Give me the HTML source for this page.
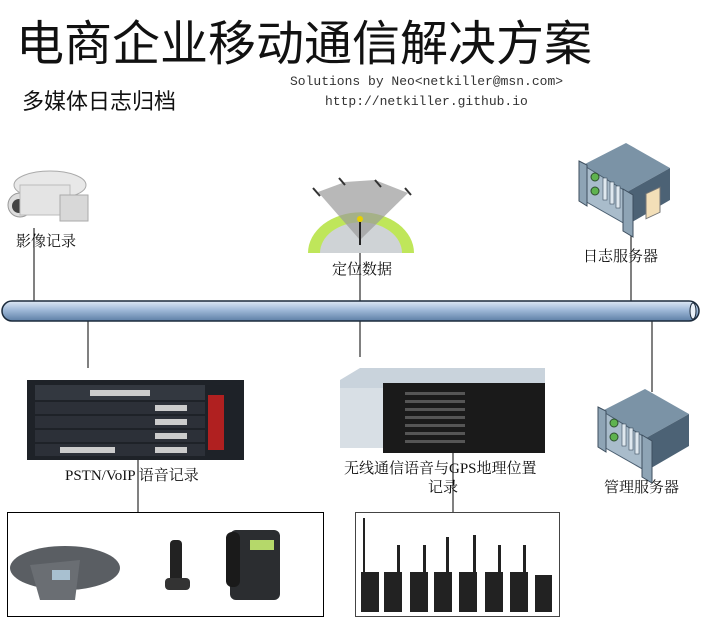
<!DOCTYPE html>
<html><head><meta charset="utf-8"><style>
body{margin:0;width:702px;height:619px;background:#fff;position:relative;overflow:hidden;font-family:"Liberation Serif","Noto Serif CJK SC","Noto Sans CJK SC",serif;}
.t{position:absolute;white-space:nowrap;color:#111;}
.cjk{font-family:"Liberation Sans","Noto Sans CJK SC",sans-serif;}
svg{position:absolute;left:0;top:0;}
</style></head><body>
<svg width="702" height="619" viewBox="0 0 702 619">
<defs>
<linearGradient id="pipe" x1="0" y1="0" x2="0" y2="1">
<stop offset="0" stop-color="#dfe9f5"/><stop offset="0.45" stop-color="#9fb9d8"/><stop offset="1" stop-color="#5d7fa6"/></linearGradient>
<g id="srv">
<polygon points="0,22 43,0 87,25 44,49" fill="#7b93a6"/>
<polygon points="44,49 87,25 87,57 44,82" fill="#4c6275"/>
<polygon points="0,22 44,49 44,82 0,57" fill="#a9bccb" stroke="#4a5e70" stroke-width="1"/>
<polygon points="-4,18 4,22 4,63 -4,58" fill="#8ea4b5" stroke="#3d4e5e"/>
<polygon points="40,46 50,52 50,94 40,88" fill="#8ea4b5" stroke="#3d4e5e"/>
<circle cx="12" cy="34" r="4" fill="#5fb34f" stroke="#2f4f2f"/>
<circle cx="12" cy="48" r="4" fill="#5fb34f" stroke="#2f4f2f"/>
<rect x="20" y="35" width="4" height="22" fill="#dfe8ef" stroke="#3d4e5e" stroke-width=".6"/>
<rect x="27" y="39" width="4" height="22" fill="#dfe8ef" stroke="#3d4e5e" stroke-width=".6"/>
<rect x="33" y="43" width="4" height="22" fill="#dfe8ef" stroke="#3d4e5e" stroke-width=".6"/>
</g>
</defs>
<g stroke="#000" stroke-width="1">
<line x1="34" y1="228" x2="34" y2="302"/>
<line x1="360" y1="245" x2="360" y2="302"/>
<line x1="631" y1="200" x2="631" y2="302"/>
<line x1="88" y1="320" x2="88" y2="368"/>
<line x1="360" y1="320" x2="360" y2="357"/>
<line x1="652" y1="320" x2="652" y2="392"/>
<line x1="138" y1="458" x2="138" y2="512"/>
<line x1="453" y1="452" x2="453" y2="512"/>
</g>
<rect x="2" y="301" width="697" height="20" rx="10" fill="url(#pipe)" stroke="#1c2b3c" stroke-width="1.5"/>
<ellipse cx="693" cy="311" rx="3" ry="8" fill="#e9f0f8" stroke="#1c2b3c"/>
<rect x="7.5" y="512.5" width="316" height="104" fill="none" stroke="#000"/>
<rect x="355.5" y="512.5" width="204" height="104" fill="none" stroke="#444"/>
<use href="#srv" transform="translate(583,143)"/>
<rect x="646" y="195" width="14" height="25" fill="#f3dfb8" stroke="#777" transform="skewY(-25) translate(0,300)"/>
<use href="#srv" transform="translate(602,389)"/>
<g>
<ellipse cx="50" cy="185" rx="36" ry="14" fill="#e8e8e8" stroke="#aaa"/>
<ellipse cx="20" cy="205" rx="12" ry="12" fill="#ddd" stroke="#999"/>
<circle cx="19" cy="206" r="7" fill="#444"/>
<rect x="20" y="185" width="50" height="30" fill="#e4e4e4" stroke="#bbb"/>
<rect x="60" y="195" width="28" height="26" fill="#d8d8d8" stroke="#aaa"/>
</g>
<g>
<path d="M308,253 A52,40 0 0 1 414,253 Z" fill="#bfe65a"/>
<path d="M320,253 A40,30 0 0 1 402,253 Z" fill="#cfd3d6"/>
<polygon points="360,240 318,192 345,182 375,180 408,193" fill="#9a9a9a" opacity=".7"/>
<line x1="360" y1="222" x2="360" y2="245" stroke="#222" stroke-width="2"/>
<circle cx="360" cy="219" r="3" fill="#e8d000"/>
<g stroke="#333" stroke-width="2"><line x1="313" y1="188" x2="320" y2="196"/><line x1="339" y1="178" x2="345" y2="185"/><line x1="375" y1="180" x2="381" y2="187"/><line x1="405" y1="188" x2="411" y2="195"/></g>
</g>
<g>
<rect x="27" y="380" width="217" height="80" fill="#1e2228"/>
<rect x="35" y="385" width="170" height="15" fill="#333840"/>
<rect x="35" y="402" width="170" height="12" fill="#2c3038"/>
<rect x="35" y="416" width="170" height="12" fill="#2c3038"/>
<rect x="35" y="430" width="170" height="12" fill="#2c3038"/>
<rect x="35" y="444" width="170" height="12" fill="#2c3038"/>
<rect x="208" y="395" width="16" height="55" fill="#b02020"/>
<g fill="#ccc"><rect x="155" y="405" width="32" height="6"/><rect x="155" y="419" width="32" height="6"/><rect x="155" y="433" width="32" height="6"/><rect x="155" y="447" width="32" height="6"/><rect x="60" y="447" width="55" height="6"/><rect x="90" y="390" width="60" height="6"/></g>
</g>
<g>
<polygon points="340,380 360,368 545,368 545,390 340,390" fill="#c9d3dc"/>
<rect x="340" y="388" width="205" height="60" fill="#d8dfe5"/>
<rect x="383" y="383" width="162" height="70" fill="#1a1a1a"/>
<g fill="#555"><rect x="405" y="392" width="60" height="3"/><rect x="405" y="400" width="60" height="3"/><rect x="405" y="408" width="60" height="3"/><rect x="405" y="416" width="60" height="3"/><rect x="405" y="424" width="60" height="3"/><rect x="405" y="432" width="60" height="3"/><rect x="405" y="440" width="60" height="3"/></g>
</g>
<g>
<ellipse cx="65" cy="568" rx="55" ry="22" fill="#5a5e63"/>
<polygon points="30,565 80,560 75,600 40,600" fill="#6a6e73"/>
<rect x="52" y="570" width="18" height="10" fill="#a8c0d0"/>
<rect x="170" y="540" width="12" height="45" rx="4" fill="#222"/>
<rect x="165" y="578" width="25" height="12" rx="4" fill="#333"/>
<rect x="230" y="530" width="50" height="70" rx="6" fill="#2b2d30"/>
<rect x="250" y="540" width="24" height="10" fill="#b5d86a"/>
<rect x="226" y="532" width="14" height="55" rx="6" fill="#1a1a1a"/>
</g>
<g fill="#222">
<rect x="361" y="572" width="18" height="40"/><line x1="364" y1="518" x2="364" y2="572" stroke="#222" stroke-width="2"/>
<rect x="384" y="572" width="18" height="40"/><rect x="397" y="545" width="3" height="27"/>
<rect x="410" y="572" width="18" height="40"/><rect x="423" y="545" width="3" height="27"/>
<rect x="434" y="572" width="18" height="40"/><rect x="446" y="537" width="3" height="35"/>
<rect x="459" y="572" width="18" height="40"/><rect x="473" y="535" width="3" height="37"/>
<rect x="485" y="572" width="18" height="40"/><rect x="498" y="545" width="3" height="27"/>
<rect x="510" y="572" width="18" height="40"/><rect x="523" y="545" width="3" height="27"/>
<rect x="535" y="575" width="17" height="37"/>
</g>
</svg>
<div class="t cjk" style="left:16px;top:4px;font-size:48px;">电商企业移动通信解决方案</div>
<div class="t cjk" style="left:22px;top:84px;font-size:22px;">多媒体日志归档</div>
<div class="t" style="left:290px;top:74px;font-size:13px;font-family:'Liberation Mono',monospace;color:#333;">Solutions by Neo&lt;netkiller@msn.com&gt;</div>
<div class="t" style="left:325px;top:94px;font-size:13px;font-family:'Liberation Mono',monospace;color:#333;">http://netkiller.github.io</div>
<div class="t" style="left:16px;top:230px;font-size:15px;">影像记录</div>
<div class="t" style="left:332px;top:258px;font-size:15px;">定位数据</div>
<div class="t" style="left:583px;top:245px;font-size:15px;">日志服务器</div>
<div class="t" style="left:65px;top:464px;font-size:15px;">PSTN/VoIP 语音记录</div>
<div class="t" style="left:344px;top:457px;font-size:15px;">无线通信语音与GPS地理位置</div>
<div class="t" style="left:428px;top:476px;font-size:15px;">记录</div>
<div class="t" style="left:604px;top:476px;font-size:15px;">管理服务器</div>
</body></html>
